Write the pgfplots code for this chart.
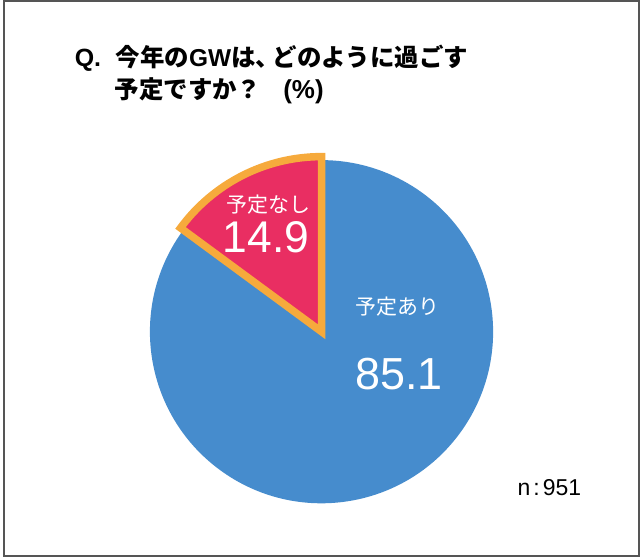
\documentclass[border=0pt]{standalone}
\usepackage{pgfplots}
\pgfplotsset{compat=1.18}
\usepackage{pgfplotstable}
\usepackage{fontspec}
\setmainfont{Liberation Sans}
\newfontfamily\cjk{Noto Sans CJK JP}

\definecolor{pieblue}{HTML}{468CCD}
\definecolor{piered}{HTML}{E92E62}
\definecolor{pieorange}{HTML}{F6AA3C}
\definecolor{framegray}{HTML}{555555}

% share of answers (%)
\pgfplotstableread{
slice value
ari   85.1
nashi 14.9
}\piedata

\begin{document}
\pgfplotstablegetelem{1}{value}\of\piedata
\pgfmathsetmacro{\angsplit}{90+3.6*\pgfplotsretval}
\begin{tikzpicture}
\begin{axis}[
  width=640pt, height=560pt, scale only axis,
  xmin=0, xmax=640, ymin=0, ymax=560,
  y dir=reverse,
  hide axis, clip=false,
]
% frame
\draw[framegray, line width=2.5pt] (axis cs:1.25,1.25) rectangle (axis cs:637.5,557.5);
% 予定あり
\fill[pieblue] (axis cs:319.5,332.5) -- ++(\angsplit:172pt)
  arc[start angle=\angsplit, end angle=450, radius=172pt] -- cycle;
% 予定なし
\filldraw[fill=piered, draw=pieorange, line width=7.5pt, line join=miter]
  (axis cs:319.5,332.5) -- ++(90:175.5pt)
  arc[start angle=90, end angle=\angsplit, radius=175.5pt] -- cycle;

\node[text=white, font=\cjk\fontsize{21}{25}\selectfont] at (axis cs:266,205) {予定なし};
\node[text=white, font=\fontsize{44.5}{52}\selectfont] at (axis cs:264,238) {14.9};
\node[text=white, font=\cjk\fontsize{21}{25}\selectfont] at (axis cs:396,307) {予定あり};
\node[text=white, font=\fontsize{45}{54}\selectfont] at (axis cs:397,375) {85.1};
\node[anchor=base west, inner sep=0, font=\fontsize{23}{27}\selectfont] at (axis cs:516,497) {n\kern3pt:\kern3pt951};

% title
\node[anchor=base west, inner sep=0, font=\bfseries\fontsize{25}{30}\selectfont] at (axis cs:72,67) {Q.};
\node[anchor=base west, inner sep=0, font=\cjk\bfseries\fontsize{24.5}{30}\selectfont] at (axis cs:113,67)
  {今年の{\rmfamily\bfseries GW}は、\kern-0.3emどのように過ごす};
\node[anchor=base west, inner sep=0, font=\cjk\bfseries\fontsize{24.5}{30}\selectfont] at (axis cs:112,99) {予定ですか？};
\node[anchor=base west, inner sep=0, font=\bfseries\fontsize{26}{30}\selectfont] at (axis cs:281,99) {(\%)};
\end{axis}
\end{tikzpicture}
\end{document}
